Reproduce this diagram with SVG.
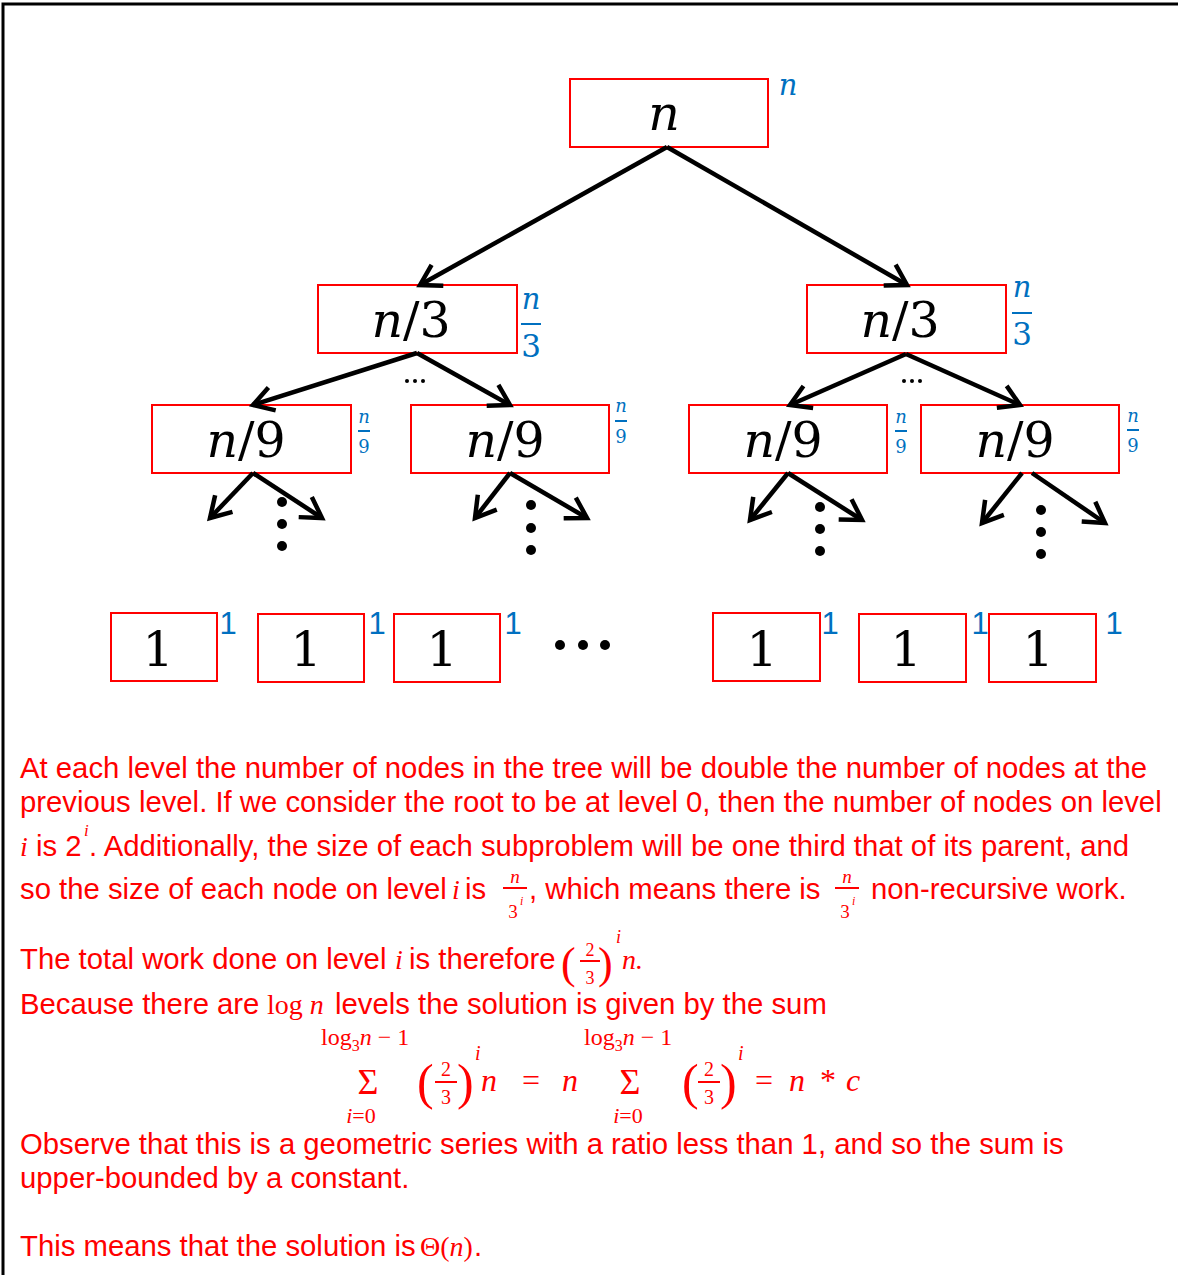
<svg xmlns="http://www.w3.org/2000/svg" width="1178" height="1275" viewBox="0 0 1178 1275">
<style>
.box{fill:#fff;stroke:#ff0000;stroke-width:2}
.lbl{font-family:"DejaVu Serif",serif;font-size:49px;fill:#000;text-anchor:middle}
.it{font-style:italic}
.bl{font-family:"DejaVu Serif",serif;fill:#0070c0;text-anchor:middle}
.bn{font-family:"Liberation Sans",sans-serif;font-size:31px;fill:#0070c0;text-anchor:middle}
.bar{stroke:#0070c0;stroke-width:2}
.edge{stroke:#000;stroke-width:4.5;fill:none;marker-end:url(#ah)}
.p{font-family:"Liberation Sans",Arial,sans-serif;font-size:29.3px;fill:#ff0000}
.m{font-family:"Liberation Serif",serif;fill:#ff0000}
.rbar{stroke:#ff0000;stroke-width:2}
</style>
<defs>
<marker id="ah" markerUnits="userSpaceOnUse" markerWidth="32" markerHeight="28" viewBox="0 0 32 28" refX="26" refY="14" orient="auto" overflow="visible">
<path d="M6,2 L26,14 L6,26" fill="none" stroke="#000" stroke-width="4.5"/>
</marker>
</defs>
<rect width="1178" height="1275" fill="#fff"/>
<path d="M3,1275 V4 H1178" fill="none" stroke="#000" stroke-width="3"/>

<g id="root">
<rect class="box" x="570" y="79" width="198" height="68"/>
<text class="lbl it" x="664" y="130">n</text>
<text class="bl it" x="788" y="95" font-size="29">n</text>
</g>

<g id="n3L">
<rect class="box" x="318" y="285" width="199" height="68"/>
<text class="lbl" x="411" y="337"><tspan class="it">n</tspan>/3</text>
<text class="bl it" x="531" y="309" font-size="29">n</text>
<line class="bar" x1="521" y1="324" x2="541" y2="324"/>
<text class="bl" x="531" y="357" font-size="31">3</text>
</g>

<g id="n3R">
<rect class="box" x="807" y="285" width="199" height="68"/>
<text class="lbl" x="900" y="337"><tspan class="it">n</tspan>/3</text>
<text class="bl it" x="1022" y="297" font-size="29">n</text>
<line class="bar" x1="1012" y1="313" x2="1032" y2="313"/>
<text class="bl" x="1022" y="345" font-size="31">3</text>
</g>

<g id="n9a">
<rect class="box" x="152" y="405" width="199" height="68"/>
<text class="lbl" x="246" y="457"><tspan class="it">n</tspan>/9</text>
<text class="bl it" x="364" y="423" font-size="18">n</text>
<line class="bar" x1="358" y1="431" x2="370" y2="431" stroke-width="1.5"/>
<text class="bl" x="364" y="453" font-size="18">9</text>
</g>

<g id="n9b">
<rect class="box" x="411" y="405" width="198" height="68"/>
<text class="lbl" x="505" y="457"><tspan class="it">n</tspan>/9</text>
<text class="bl it" x="621" y="412" font-size="18">n</text>
<line class="bar" x1="615" y1="421" x2="627" y2="421" stroke-width="1.5"/>
<text class="bl" x="621" y="443" font-size="18">9</text>
</g>

<g id="n9c">
<rect class="box" x="689" y="405" width="198" height="68"/>
<text class="lbl" x="783" y="457"><tspan class="it">n</tspan>/9</text>
<text class="bl it" x="901" y="423" font-size="18">n</text>
<line class="bar" x1="895" y1="431" x2="907" y2="431" stroke-width="1.5"/>
<text class="bl" x="901" y="453" font-size="18">9</text>
</g>

<g id="n9d">
<rect class="box" x="921" y="405" width="198" height="68"/>
<text class="lbl" x="1015" y="457"><tspan class="it">n</tspan>/9</text>
<text class="bl it" x="1133" y="422" font-size="18">n</text>
<line class="bar" x1="1127" y1="430" x2="1139" y2="430" stroke-width="1.5"/>
<text class="bl" x="1133" y="452" font-size="18">9</text>
</g>

<g id="leaf1"><rect class="box" x="111" y="613" width="106" height="68"/><text class="lbl" x="158" y="666">1</text><text class="bn" x="228" y="634">1</text></g>
<g id="leaf2"><rect class="box" x="258" y="614" width="106" height="68"/><text class="lbl" x="306" y="666">1</text><text class="bn" x="377" y="634">1</text></g>
<g id="leaf3"><rect class="box" x="394" y="614" width="106" height="68"/><text class="lbl" x="442" y="666">1</text><text class="bn" x="513" y="634">1</text></g>
<g id="leaf4"><rect class="box" x="713" y="613" width="107" height="68"/><text class="lbl" x="762" y="666">1</text><text class="bn" x="830" y="634">1</text></g>
<g id="leaf5"><rect class="box" x="859" y="614" width="107" height="68"/><text class="lbl" x="906" y="666">1</text><text class="bn" x="980" y="634">1</text></g>
<g id="leaf6"><rect class="box" x="989" y="614" width="107" height="68"/><text class="lbl" x="1038" y="666">1</text><text class="bn" x="1114" y="634">1</text></g>

<g id="connectors">
<line class="edge" x1="667" y1="147" x2="420" y2="285"/>
<line class="edge" x1="667" y1="147" x2="907" y2="285"/>
<line class="edge" x1="417" y1="353" x2="253" y2="405"/>
<line class="edge" x1="417" y1="353" x2="510" y2="405"/>
<line class="edge" x1="906" y1="354" x2="790" y2="405"/>
<line class="edge" x1="906" y1="354" x2="1020" y2="405"/>
<line class="edge" x1="253" y1="473" x2="210" y2="518"/>
<line class="edge" x1="253" y1="473" x2="322" y2="518"/>
<line class="edge" x1="510" y1="473" x2="475" y2="518"/>
<line class="edge" x1="510" y1="473" x2="587" y2="518"/>
<line class="edge" x1="788" y1="473" x2="750" y2="520"/>
<line class="edge" x1="788" y1="473" x2="862" y2="520"/>
<line class="edge" x1="1022" y1="473" x2="982" y2="523"/>
<line class="edge" x1="1032" y1="473" x2="1105" y2="523"/>
</g>

<g id="dots" fill="#000">
<circle cx="407" cy="381" r="2"/><circle cx="415" cy="381" r="2"/><circle cx="423" cy="381" r="2"/>
<circle cx="904" cy="381" r="2"/><circle cx="912" cy="381" r="2"/><circle cx="920" cy="381" r="2"/>
<circle cx="282" cy="502" r="5"/><circle cx="282" cy="524" r="5"/><circle cx="282" cy="546" r="5"/>
<circle cx="531" cy="505" r="5"/><circle cx="531" cy="528" r="5"/><circle cx="531" cy="550" r="5"/>
<circle cx="820" cy="507" r="5"/><circle cx="820" cy="529" r="5"/><circle cx="820" cy="551" r="5"/>
<circle cx="1041" cy="510" r="5"/><circle cx="1041" cy="532" r="5"/><circle cx="1041" cy="554" r="5"/>
<circle cx="560" cy="645" r="5"/><circle cx="583" cy="645" r="5"/><circle cx="605" cy="645" r="5"/>
</g>

<g id="explanation">
<text class="p" x="20" y="778">At each level the number of nodes in the tree will be double the number of nodes at the</text>
<text class="p" x="20" y="812">previous level. If we consider the root to be at level 0, then the number of nodes on level</text>
<text class="m it" x="20" y="856" font-size="28">i</text>
<text class="p" x="36" y="856">is 2</text>
<text class="m it" x="84" y="836" font-size="17">i</text>
<text class="p" x="89" y="856">. Additionally, the size of each subproblem will be one third that of its parent, and</text>

<text class="p" x="20" y="899">so the size of each node on level</text>
<text class="m it" x="452" y="899" font-size="28">i</text>
<text class="p" x="465" y="899">is</text>
<text class="m it" x="515" y="883" font-size="19" text-anchor="middle">n</text>
<line class="rbar" x1="503" y1="888" x2="527" y2="888"/>
<text class="m" x="513" y="918" font-size="19" text-anchor="middle">3</text>
<text class="m it" x="520" y="905" font-size="12">i</text>
<text class="p" x="529" y="899">, which means there is</text>
<text class="m it" x="847" y="883" font-size="19" text-anchor="middle">n</text>
<line class="rbar" x1="835" y1="888" x2="859" y2="888"/>
<text class="m" x="845" y="918" font-size="19" text-anchor="middle">3</text>
<text class="m it" x="852" y="905" font-size="12">i</text>
<text class="p" x="871" y="899">non-recursive work.</text>

<text class="p" x="20" y="969">The total work done on level</text>
<text class="m it" x="395" y="969" font-size="28">i</text>
<text class="p" x="409" y="969">is therefore</text>
<text class="m" x="561" y="978" font-size="44">(</text>
<text class="m" x="590" y="956" font-size="18" text-anchor="middle">2</text>
<line class="rbar" x1="580" y1="961" x2="600" y2="961"/>
<text class="m" x="590" y="984" font-size="18" text-anchor="middle">3</text>
<text class="m" x="598" y="978" font-size="44">)</text>
<text class="m it" x="616" y="943" font-size="18">i</text>
<text class="m it" x="622" y="969" font-size="28">n.</text>

<text class="p" x="20" y="1014">Because there are</text>
<text class="m" x="267" y="1014" font-size="28">log <tspan class="it">n</tspan></text>
<text class="p" x="335" y="1014">levels the solution is given by the sum</text>

<text class="m" x="321" y="1045" font-size="24">log<tspan font-size="16" dy="6">3</tspan><tspan class="it" dy="-6">n</tspan> − 1</text>
<text class="m" x="368" y="1094" font-size="36" text-anchor="middle">Σ</text>
<text class="m" x="361" y="1123" font-size="22" text-anchor="middle"><tspan class="it">i</tspan>=0</text>
<text class="m" x="417" y="1099" font-size="50">(</text>
<text class="m" x="446" y="1076" font-size="20" text-anchor="middle">2</text>
<line class="rbar" x1="435" y1="1082" x2="457" y2="1082"/>
<text class="m" x="446" y="1104" font-size="20" text-anchor="middle">3</text>
<text class="m" x="457" y="1099" font-size="50">)</text>
<text class="m it" x="475" y="1060" font-size="20">i</text>
<text class="m it" x="481" y="1091" font-size="32">n</text>
<text class="m" x="522" y="1091" font-size="32">=</text>
<text class="m it" x="562" y="1091" font-size="32">n</text>

<text class="m" x="584" y="1045" font-size="24">log<tspan font-size="16" dy="6">3</tspan><tspan class="it" dy="-6">n</tspan> − 1</text>
<text class="m" x="630" y="1094" font-size="36" text-anchor="middle">Σ</text>
<text class="m" x="628" y="1123" font-size="22" text-anchor="middle"><tspan class="it">i</tspan>=0</text>
<text class="m" x="682" y="1099" font-size="50">(</text>
<text class="m" x="709" y="1076" font-size="20" text-anchor="middle">2</text>
<line class="rbar" x1="698" y1="1082" x2="720" y2="1082"/>
<text class="m" x="709" y="1104" font-size="20" text-anchor="middle">3</text>
<text class="m" x="720" y="1099" font-size="50">)</text>
<text class="m it" x="738" y="1060" font-size="20">i</text>
<text class="m" x="755" y="1091" font-size="32">=</text>
<text class="m it" x="789" y="1091" font-size="32">n</text>
<text class="m" x="820" y="1091" font-size="32">*</text>
<text class="m it" x="846" y="1091" font-size="32">c</text>

<text class="p" x="20" y="1154">Observe that this is a geometric series with a ratio less than 1, and so the sum is</text>
<text class="p" x="20" y="1188">upper-bounded by a constant.</text>
<text class="p" x="20" y="1256">This means that the solution is</text>
<text class="m" x="420" y="1256" font-size="28">Θ(<tspan class="it">n</tspan>)</text>
<text class="p" x="474" y="1256">.</text>
</g>
</svg>
